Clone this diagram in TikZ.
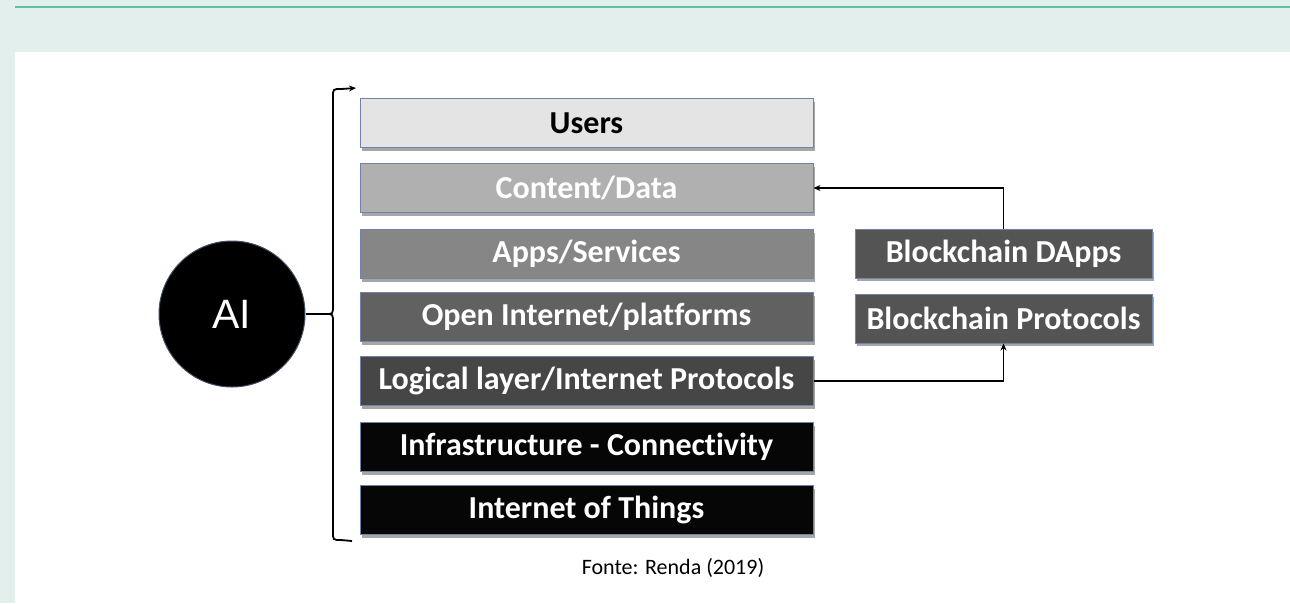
\documentclass[tikz,border=0pt]{standalone}
\usepackage{fontspec}
\setmainfont{Carlito}[Ligatures=NoCommon]
\newfontfamily\arialfont{Liberation Sans}
\usetikzlibrary{arrows.meta,shadows}

\definecolor{pagetint}{HTML}{E2EFEC}
\definecolor{ruleteal}{HTML}{5CBFA8}
\definecolor{rimblue}{HTML}{6F84A8}
\definecolor{layerA}{HTML}{E4E4E4}
\definecolor{layerB}{HTML}{B0B0B0}
\definecolor{layerC}{HTML}{868686}
\definecolor{layerD}{HTML}{616161}
\definecolor{layerE}{HTML}{464646}
\definecolor{layerF}{HTML}{060606}
\definecolor{chainbox}{HTML}{545454}

\tikzset{
  layer/.style={rectangle, draw=rimblue, line width=1pt,
    minimum width=453pt, minimum height=49pt, inner sep=0pt,
    font=\fontsize{32}{34}\selectfont\bfseries, text=white,
    drop shadow={shadow xshift=2pt, shadow yshift=-3pt, opacity=0.35, fill=black}},
  chain/.style={layer, fill=chainbox, minimum width=297pt},
  link/.style={line width=1.8pt, -{Stealth[length=7pt,width=6pt]}},
  bracket/.style={line width=1.8pt},
}

\begin{document}
\begin{tikzpicture}[x=1pt, y=-1pt]
  % page background
  \useasboundingbox (0,0) rectangle (1290,603);
  \fill[pagetint] (0,0) rectangle (1290,603);
  \fill[white] (15,52) rectangle (1290,603);
  \draw[ruleteal, line width=2pt] (15,7) -- (1290,7);

  % stack of layers
  \node[layer, fill=layerA, text=black] (users)   at (586.5,123) {Users};
  \node[layer, fill=layerB] (content) at (586.5,188) {Content/Data};
  \node[layer, fill=layerC] (apps)    at (586.5,254) {Apps/Services};
  \node[layer, fill=layerD] (open)    at (586.5,317) {Open Internet/platforms};
  \node[layer, fill=layerE] (logical) at (586.5,381) {Logical layer/Internet Protocols};
  \node[layer, fill=layerF] (infra)   at (586.5,447) {Infrastructure - Connectivity};
  \node[layer, fill=layerF] (iot)     at (586.5,510) {Internet of Things};

  % blockchain side
  \node[chain] (dapps) at (1003.5,253.5) {Blockchain DApps};
  \node[chain] (protocols) at (1003.5,318.5) {Blockchain Protocols};

  \draw[link] (dapps.north) |- (content.east);
  \draw[link] (logical.east) -| (protocols.south);

  % AI and the bracket spanning all layers
  \node[circle, fill=black, draw=rimblue!60!black, line width=1pt,
        minimum size=146pt, inner sep=0pt, text=white,
        font=\arialfont\fontsize{41}{44}\selectfont] (ai) at (232,314) {AI};
  \coordinate (notch) at (326,314);
  \coordinate (toptip) at (356,88);
  \coordinate (bottomend) at (352,541);
  \draw[bracket] (ai.east) -- (notch);
  \draw[bracket, -{Stealth[length=7pt,width=6pt]}] (notch) .. controls (333,314) .. (333,305)
    -- (333,97) .. controls (333,89) .. (341,89) -- (toptip);
  \draw[bracket] (notch) .. controls (333,314) .. (333,323)
    -- (333,532) .. controls (333,540) .. (341,540) -- (bottomend);

  \node[font=\fontsize{22}{24}\selectfont] (source) at (673,568) {Fonte: Renda (2019)};
\end{tikzpicture}
\end{document}
